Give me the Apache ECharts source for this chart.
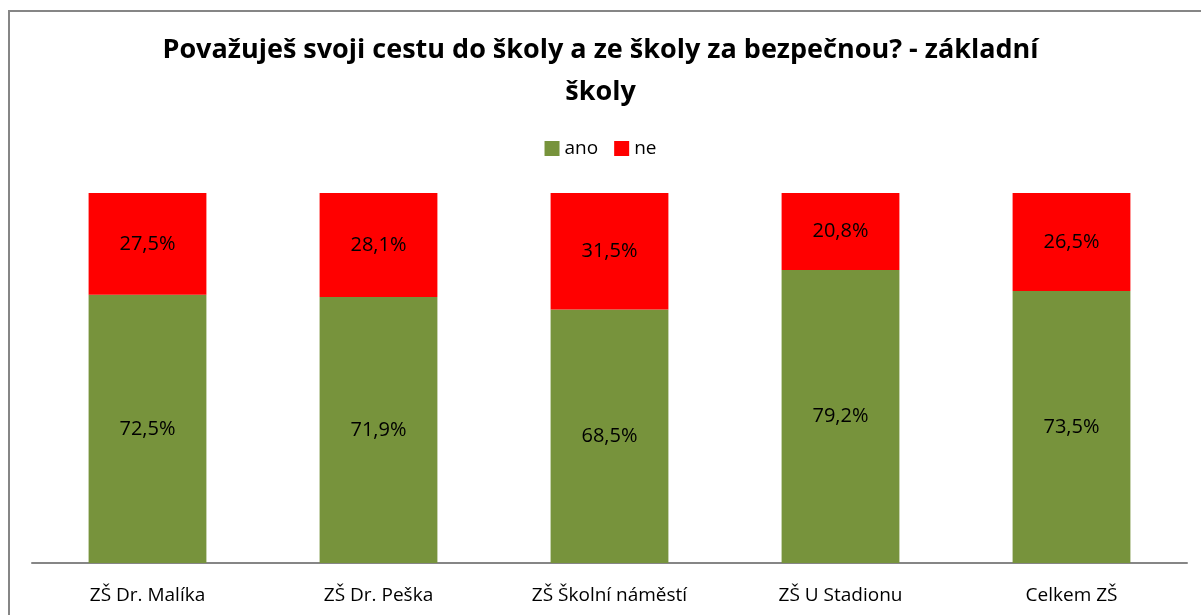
<!DOCTYPE html>
<html>
<head>
<meta charset="utf-8">
<script src="https://cdn.jsdelivr.net/npm/echarts@6/dist/echarts.min.js"></script>
<style>
html, body { margin: 0; padding: 0; background: #fff; }
#chart { width: 1201px; height: 615px; }
</style>
</head>
<body>
<div id="chart"></div>
<script>
var categories = ['ZŠ Dr. Malíka', 'ZŠ Dr. Peška', 'ZŠ Školní náměstí', 'ZŠ U Stadionu', 'Celkem ZŠ'];
var anoValues = [72.5, 71.9, 68.5, 79.2, 73.5];
var neValues = [27.5, 28.1, 31.5, 20.8, 26.5];
var seriesNames = ['ano', 'ne'];

function fmt(p) {
	return p.value.toFixed(1).replace('.', ',') + '%';
}

var myChart = echarts.init(document.getElementById('chart'));
var option = {
	animation: false,
	backgroundColor: '#ffffff',
	textStyle: { fontFamily: '"Open Sans", "Noto Sans", sans-serif' },
	title: {
		text: 'Považuješ svoji cestu do školy a ze školy za bezpečnou? - základní\nškoly',
		left: 'center',
		top: 24,
		textStyle: {
			fontSize: 27,
			fontWeight: 'bold',
			color: '#000',
			lineHeight: 42,
			fontFamily: '"Open Sans", sans-serif'
		}
	},
	legend: {
		data: seriesNames,
		top: 134,
		left: 'center',
		icon: 'rect',
		itemWidth: 15,
		itemHeight: 15,
		itemGap: 16,
		textStyle: { fontSize: 19, color: '#000' }
	},
	graphic: [{
		type: 'rect',
		shape: { x: 9, y: 11, width: 1300, height: 700 },
		style: { fill: 'none', stroke: '#868686', lineWidth: 2 },
		silent: true
	}],
	grid: { left: 32, right: 14, top: 193, bottom: 52 },
	xAxis: {
		type: 'category',
		data: categories,
		axisLine: { lineStyle: { color: '#868686', width: 2 } },
		axisTick: { show: false },
		axisLabel: { fontSize: 19, color: '#000', margin: 23 }
	},
	yAxis: {
		type: 'value',
		min: 0,
		max: 100,
		show: false,
		splitLine: { show: false }
	},
	series: [{
		name: 'ano',
		type: 'bar',
		stack: 'total',
		barWidth: '51%',
		itemStyle: { color: '#77933C' },
		label: { show: true, position: 'inside', formatter: fmt, fontSize: 20, color: '#000' },
		data: anoValues
	}, {
		name: 'ne',
		type: 'bar',
		stack: 'total',
		itemStyle: { color: '#FF0000' },
		label: { show: true, position: 'inside', formatter: fmt, fontSize: 20, color: '#000' },
		data: neValues
	}]
};
myChart.setOption(option);
</script>
</body>
</html>
